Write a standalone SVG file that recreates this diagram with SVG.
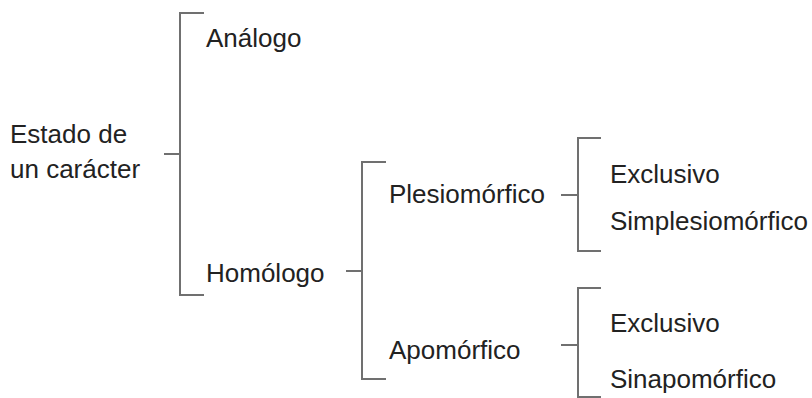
<svg xmlns="http://www.w3.org/2000/svg" width="812" height="398" viewBox="0 0 812 398">
<style>
.t{font-family:"Liberation Sans",Arial,sans-serif;font-size:26px;fill:#222}
.c{fill:none;stroke:#707070;stroke-width:2}
</style>
<rect width="812" height="398" fill="#fff"/>
<g id="connectors">
<path class="c" d="M204,13H180V295H204M164,154H180"/>
<path class="c" d="M386,162H362V379H386M346,271H362"/>
<path class="c" d="M601,138H578V251H601M561,195H578"/>
<path class="c" d="M601,288H578V397H601M561,345H578"/>
</g>
<g id="estado"><text class="t" x="10" y="143">Estado de</text><text class="t" x="10" y="178">un carácter</text></g>
<g id="analogo"><text class="t" x="206" y="47">Análogo</text></g>
<g id="homologo"><text class="t" x="206" y="282">Homólogo</text></g>
<g id="plesiomorfico"><text class="t" x="389" y="203">Plesiomórfico</text></g>
<g id="apomorfico"><text class="t" x="389" y="359">Apomórfico</text></g>
<g id="exclusivo1"><text class="t" x="610" y="183">Exclusivo</text></g>
<g id="simplesiomorfico"><text class="t" x="610" y="230">Simplesiomórfico</text></g>
<g id="exclusivo2"><text class="t" x="610" y="332">Exclusivo</text></g>
<g id="sinapomorfico"><text class="t" x="610" y="388">Sinapomórfico</text></g>
</svg>
